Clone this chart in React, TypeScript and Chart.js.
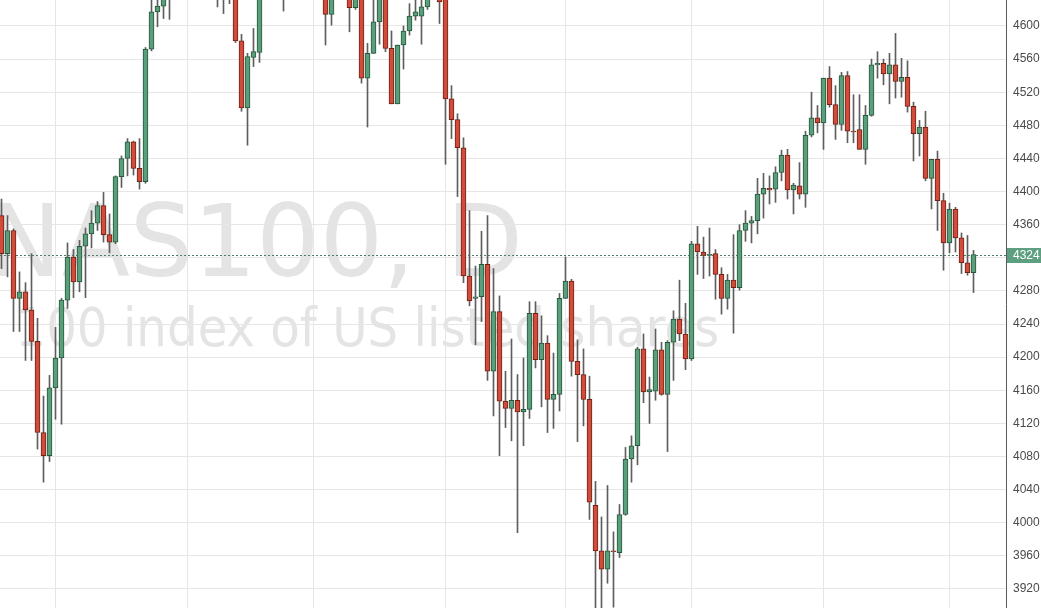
import React, { useEffect, useRef } from "react";
import { Chart, registerables } from "chart.js";

Chart.register(...registerables);

// ---- Data (NAS100 daily candles) ----
const OPEN = [
  4371, 4325, 4353, 4271, 4279, 4257, 4219, 4109, 4081, 4163,
  4199, 4269, 4321, 4291, 4334, 4349, 4362, 4383, 4348, 4339,
  4418, 4440, 4460, 4428, 4412, 4572, 4617, 4624, 4636, 4650,
  4662, 4655, 4672, 4680, 4668, 4675, 4660, 4648, 4656, 4645,
  4582, 4501, 4562, 4568, 4640, 4655, 4662, 4650, 4644, 4660,
  4675, 4668, 4680, 4672, 4650, 4614, 4648, 4660, 4645, 4622,
  4642, 4537, 4567, 4605, 4640, 4573, 4506, 4577, 4594, 4612,
  4612, 4623, 4638, 4650, 4635, 4512, 4487, 4453, 4298, 4271,
  4273, 4312, 4183, 4255, 4147, 4138, 4148, 4134, 4137, 4253,
  4197, 4217, 4149, 4155, 4271, 4292, 4195, 4179, 4149, 4021,
  3966, 3944, 3966, 3964, 4010, 4077, 4093, 4210, 4158, 4159,
  4209, 4155, 4218, 4246, 4228, 4198, 4337, 4327, 4323, 4325,
  4300, 4271, 4293, 4284, 4353, 4362, 4365, 4397, 4404, 4403,
  4423, 4444, 4402, 4407, 4397, 4468, 4489, 4483, 4537, 4505,
  4481, 4540, 4473, 4475, 4451, 4492, 4553, 4555, 4542, 4553,
  4533, 4538, 4503, 4470, 4478, 4416, 4439, 4389, 4338, 4379,
  4344, 4314, 4302,
];
const HIGH = [
  4391, 4371, 4355, 4303, 4290, 4325, 4247, 4153, 4178, 4236,
  4271, 4338, 4330, 4341, 4356, 4377, 4388, 4399, 4373, 4419,
  4443, 4464, 4461, 4464, 4574, 4636, 4638, 4645, 4658, 4670,
  4675, 4680, 4690, 4688, 4685, 4682, 4668, 4662, 4660, 4650,
  4590, 4567, 4597, 4648, 4660, 4670, 4668, 4658, 4668, 4682,
  4685, 4690, 4688, 4678, 4655, 4655, 4668, 4668, 4650, 4648,
  4648, 4579, 4636, 4648, 4645, 4594, 4577, 4600, 4627, 4634,
  4636, 4645, 4658, 4655, 4640, 4528, 4494, 4465, 4377, 4310,
  4352, 4371, 4307, 4274, 4183, 4222, 4179, 4199, 4267, 4267,
  4250, 4226, 4205, 4277, 4321, 4294, 4221, 4210, 4177, 4050,
  4007, 4045, 3989, 4022, 4091, 4105, 4212, 4228, 4176, 4234,
  4218, 4220, 4256, 4293, 4265, 4340, 4358, 4345, 4356, 4330,
  4308, 4300, 4348, 4360, 4377, 4370, 4416, 4422, 4419, 4430,
  4450, 4451, 4410, 4435, 4473, 4520, 4504, 4537, 4551, 4528,
  4544, 4545, 4517, 4517, 4504, 4560, 4569, 4560, 4567, 4591,
  4561, 4558, 4508, 4486, 4497, 4439, 4449, 4398, 4386, 4381,
  4350, 4347, 4329,
];
const LOW = [
  4307, 4297, 4231, 4231, 4196, 4196, 4089, 4049, 4074, 4125,
  4119, 4259, 4272, 4279, 4272, 4332, 4353, 4339, 4326, 4337,
  4405, 4419, 4420, 4403, 4410, 4570, 4599, 4609, 4608, 4640,
  4645, 4648, 4660, 4650, 4640, 4636, 4623, 4615, 4627, 4580,
  4497, 4456, 4551, 4556, 4635, 4645, 4640, 4618, 4638, 4652,
  4655, 4660, 4660, 4640, 4577, 4601, 4640, 4635, 4593, 4620,
  4531, 4478, 4567, 4578, 4569, 4506, 4506, 4548, 4589, 4607,
  4578, 4620, 4633, 4603, 4433, 4464, 4394, 4290, 4262, 4215,
  4243, 4172, 4129, 4081, 4115, 4099, 3988, 4093, 4126, 4187,
  4140, 4109, 4114, 4135, 4271, 4177, 4098, 4117, 4004, 3890,
  3895, 3927, 3898, 3958, 4009, 4049, 4070, 4145, 4120, 4148,
  4154, 4086, 4172, 4220, 4185, 4196, 4300, 4295, 4298, 4270,
  4252, 4258, 4229, 4281, 4340, 4338, 4349, 4368, 4385, 4387,
  4413, 4391, 4373, 4391, 4381, 4466, 4471, 4451, 4502, 4463,
  4474, 4459, 4459, 4451, 4433, 4491, 4537, 4529, 4506, 4513,
  4514, 4496, 4437, 4443, 4413, 4379, 4353, 4305, 4326, 4327,
  4301, 4299, 4278,
];
const CLOSE = [
  4325, 4353, 4271, 4279, 4257, 4219, 4109, 4081, 4163, 4199,
  4269, 4321, 4291, 4334, 4349, 4362, 4383, 4348, 4339, 4418,
  4440, 4460, 4428, 4412, 4572, 4617, 4624, 4636, 4650, 4662,
  4655, 4672, 4680, 4668, 4675, 4660, 4648, 4656, 4645, 4582,
  4501, 4563, 4569, 4640, 4655, 4662, 4650, 4644, 4660, 4675,
  4668, 4680, 4672, 4650, 4614, 4648, 4660, 4645, 4622, 4642,
  4537, 4567, 4605, 4640, 4573, 4506, 4577, 4594, 4612, 4617,
  4623, 4638, 4650, 4629, 4512, 4487, 4453, 4298, 4268, 4273,
  4312, 4183, 4255, 4147, 4138, 4148, 4134, 4137, 4253, 4197,
  4217, 4149, 4155, 4271, 4292, 4195, 4179, 4149, 4025, 3966,
  3944, 3966, 3965, 4010, 4077, 4093, 4210, 4158, 4161, 4209,
  4155, 4218, 4246, 4228, 4198, 4337, 4327, 4323, 4324, 4300,
  4271, 4293, 4284, 4353, 4362, 4365, 4397, 4404, 4402, 4423,
  4444, 4402, 4408, 4397, 4468, 4489, 4483, 4537, 4505, 4481,
  4540, 4473, 4472, 4451, 4492, 4553, 4555, 4542, 4553, 4533,
  4538, 4503, 4470, 4478, 4416, 4439, 4389, 4338, 4379, 4344,
  4314, 4302, 4324,
];

const Y_TICKS = [
  3920, 3960, 4000, 4040, 4080, 4120, 4160, 4200, 4240, 4280,
  4320, 4360, 4400, 4440, 4480, 4520, 4560, 4600,
];
const MONTH_STARTS = [9, 31, 52, 74, 94, 115, 137, 158];
const LAST_PRICE = 4324;
const TITLE = "NAS100, D";
const SUBTITLE = "100 index of US listed shares";

// ---- Styles ----
const GREEN = "#5b9e7c";
const GREEN_EDGE = "#24573b";
const RED = "#d14c3a";
const RED_EDGE = "#6f2116";
const WICK = "#5e5e5e";
const GRID = "#e6e6e6";
const AXIS = "#5a5a5a";
const WATERMARK = "#e4e4e4";
const WM_FONT = '"DejaVu Sans Condensed", "DejaVu Sans", sans-serif';

const watermarkPlugin = {
  id: "watermark",
  beforeDraw(chart: any) {
    const ctx = chart.ctx;
    ctx.save();
    ctx.fillStyle = "#ffffff";
    ctx.fillRect(0, 0, chart.width, chart.height);
    ctx.fillStyle = WATERMARK;
    ctx.textAlign = "left";
    ctx.textBaseline = "alphabetic";
    // main line: 100px tall glyphs, stretched so "1" starts near x=203 and "D" ends near x=517
    ctx.font = `100px ${WM_FONT}`;
    const full = ctx.measureText(TITLE);
    const oneStart =
      ctx.measureText("NAS").width - ctx.measureText("1").actualBoundingBoxLeft;
    const sx = 314 / (full.actualBoundingBoxRight - oneStart);
    ctx.save();
    ctx.translate(517 - sx * full.actualBoundingBoxRight, 276);
    ctx.scale(sx, 1);
    ctx.fillText(TITLE, 0, 0);
    ctx.restore();
    // sub line, fitted between x=20 and x=717
    let size = 53;
    ctx.font = `${size}px ${WM_FONT}`;
    let m = ctx.measureText(SUBTITLE);
    const ink = m.actualBoundingBoxLeft + m.actualBoundingBoxRight;
    size = (size * 697) / ink;
    ctx.font = `${size}px ${WM_FONT}`;
    m = ctx.measureText(SUBTITLE);
    ctx.fillText(SUBTITLE, 717 - m.actualBoundingBoxRight, 346);
    ctx.restore();
  },
};

const priceLinePlugin = {
  id: "priceLine",
  beforeDatasetsDraw(chart: any) {
    const { ctx, chartArea, scales } = chart;
    const y = Math.round(scales.y.getPixelForValue(LAST_PRICE)) + 0.5;
    ctx.save();
    ctx.strokeStyle = "#4f7d65";
    ctx.lineWidth = 1;
    ctx.setLineDash([2, 2]);
    ctx.beginPath();
    ctx.moveTo(chartArea.left, y);
    ctx.lineTo(chartArea.right, y);
    ctx.stroke();
    ctx.restore();
  },
  afterDraw(chart: any) {
    const { ctx, chartArea, scales } = chart;
    const y = Math.round(scales.y.getPixelForValue(LAST_PRICE));
    ctx.save();
    ctx.fillStyle = "#5d9f7e";
    ctx.fillRect(chartArea.right + 1, y - 7, chart.width - chartArea.right - 1, 15);
    ctx.fillStyle = "#ffffff";
    ctx.font = '12px "Liberation Sans", Arial, sans-serif';
    ctx.textAlign = "left";
    ctx.textBaseline = "middle";
    ctx.fillText(String(LAST_PRICE), chartArea.right + 7, y + 1);
    ctx.restore();
  },
};

export default function App() {
  const ref = useRef<HTMLCanvasElement>(null);

  useEffect(() => {
    document.body.style.margin = "0";
    const idx = OPEN.map((_, i) => i);
    const up = (i: number) => CLOSE[i] >= OPEN[i];
    const bodies = idx.map((i) => ({ x: i, y: [OPEN[i], CLOSE[i]] }));
    const wicks = idx.map((i) => ({ x: i, y: [LOW[i], HIGH[i]] }));

    const chart = new Chart(ref.current as HTMLCanvasElement, {
      type: "bar",
      data: {
        datasets: [
          {
            label: "body",
            data: bodies as any,
            grouped: false,
            barThickness: 5,
            minBarLength: 1,
            borderWidth: 1,
            borderSkipped: false,
            backgroundColor: idx.map((i) => (up(i) ? GREEN : RED)),
            borderColor: idx.map((i) => (up(i) ? GREEN_EDGE : RED_EDGE)),
          } as any,
          {
            label: "wick",
            data: wicks as any,
            grouped: false,
            barThickness: 1,
            borderWidth: 0,
            backgroundColor: WICK,
          } as any,
        ],
      },
      options: {
        animation: false,
        responsive: false,
        devicePixelRatio: 1,
        layout: { padding: 0 },
        plugins: {
          legend: { display: false },
          tooltip: { enabled: false },
        },
        scales: {
          x: {
            type: "linear",
            min: -0.25,
            max: 167.417,
            offset: false,
            grid: { color: GRID, drawTicks: false, offset: false },
            border: { display: false },
            ticks: { display: false },
            afterBuildTicks: (s: any) => {
              s.ticks = MONTH_STARTS.map((v) => ({ value: v }));
            },
            afterFit: (s: any) => {
              s.height = 0;
              s.paddingLeft = 0;
              s.paddingRight = 0;
            },
          } as any,
          y: {
            type: "linear",
            position: "right",
            min: 3897.05,
            max: 4631.4,
            grid: { color: GRID, drawTicks: false },
            border: { display: true, color: AXIS, width: 1 },
            ticks: {
              color: "#4a4a4a",
              padding: 7,
              font: { family: '"Liberation Sans", Arial, sans-serif', size: 12 },
              callback: (v: any) =>
                Math.abs(Number(v) - LAST_PRICE) < 15 ? "" : String(v),
            },
            afterBuildTicks: (s: any) => {
              s.ticks = Y_TICKS.map((v) => ({ value: v }));
            },
            afterFit: (s: any) => {
              s.width = 35;
              s.paddingTop = 0;
              s.paddingBottom = 0;
            },
          } as any,
        },
      },
      plugins: [watermarkPlugin, priceLinePlugin],
    });
    return () => chart.destroy();
  }, []);

  return (
    <div
      style={{
        position: "fixed",
        left: 0,
        top: 0,
        width: 1041,
        height: 608,
        background: "#ffffff",
      }}
    >
      <canvas ref={ref} width={1041} height={608} />
    </div>
  );
}
